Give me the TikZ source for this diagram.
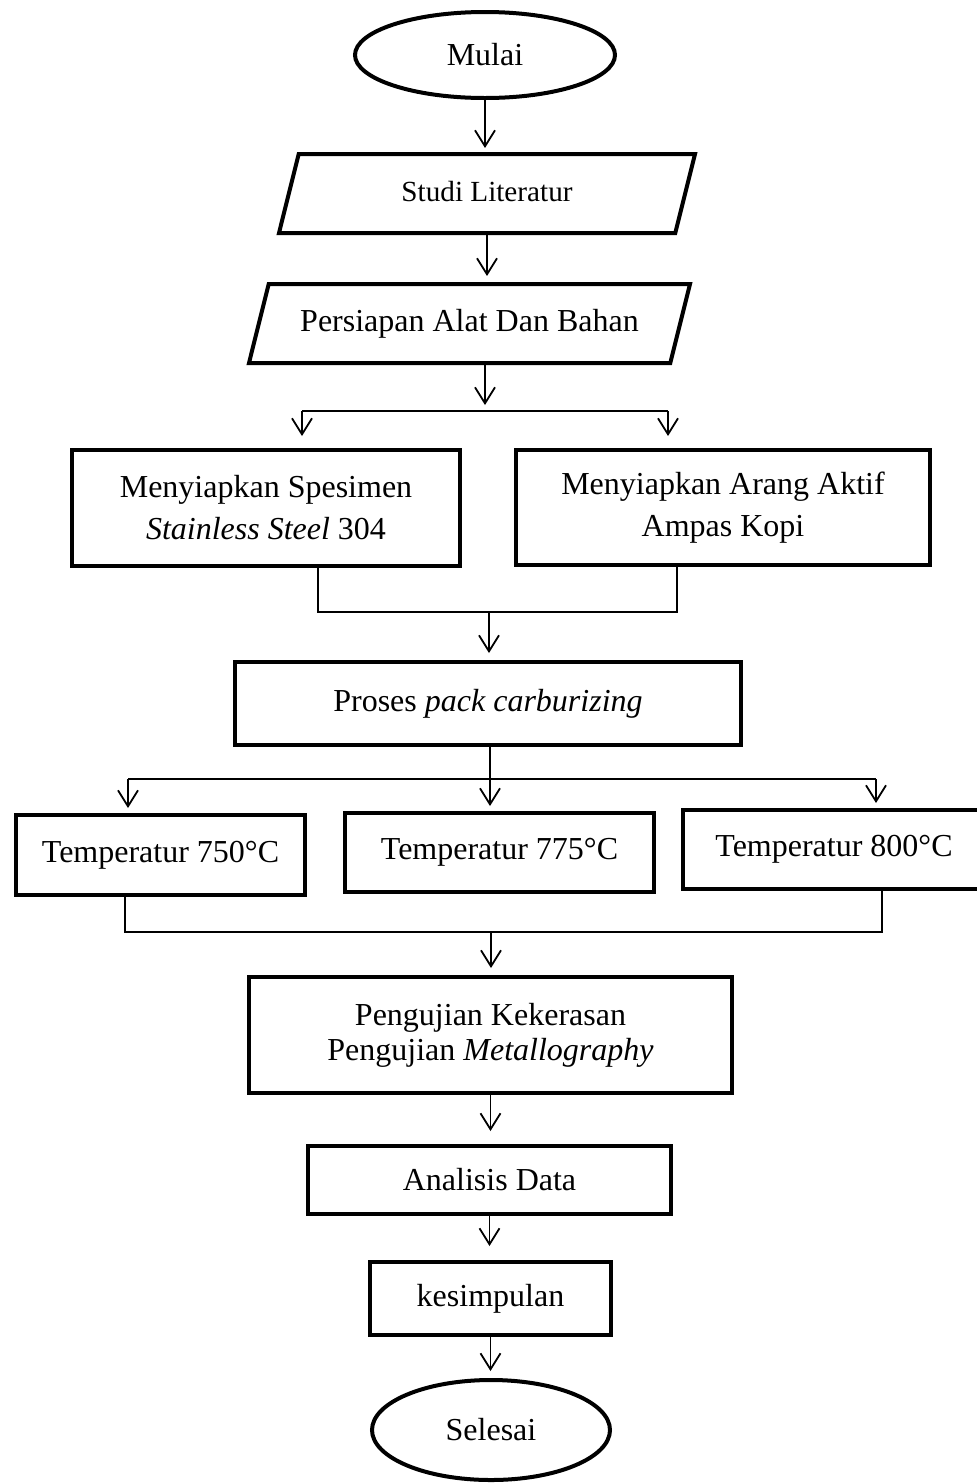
\documentclass[tikz,border=0pt]{standalone}
\usepackage{fontspec}
\setmainfont{Liberation Serif}
\usepackage{tikz}
\tikzset{
    terminal/.style={ellipse,draw,line width=2pt},
    io/.style={trapezium,trapezium left angle=76,trapezium right angle=104,trapezium stretches body,draw,line width=2pt,text height=11pt,text depth=3.5pt},
    process/.style={rectangle,draw,line width=2pt,align=center},
    edge/.style={-{Straight Barb[length=8pt,width=10pt]},line width=0.9pt},
    link/.style={line width=0.9pt}
}
\usetikzlibrary{arrows.meta,shapes.geometric}

\begin{document}
\begin{tikzpicture}[x=0.5pt,y=-0.5pt]
\useasboundingbox (0,0) rectangle (976,1484);
\begin{scope}[every node/.style={font=\fontsize{16}{19}\selectfont,inner sep=2pt}]
\node[terminal,minimum width=130pt,minimum height=43pt] (mulai) at (485,55) {Mulai};
\node[io,minimum width=208pt,inner ysep=12.5pt,font=\fontsize{14.6}{17}\selectfont] (studi) at (487,193.5) {Studi Literatur};
\node[io,minimum width=220.5pt,inner ysep=12.5pt] (persiapan) at (469.5,323.5) {Persiapan Alat Dan Bahan};
\node[process,minimum width=194pt,minimum height=58pt,font=\fontsize{16}{21}\selectfont] (spesimen) at (266,508) {Menyiapkan Spesimen\\\textit{Stainless Steel} 304};
\node[process,minimum width=207pt,minimum height=57.5pt,font=\fontsize{16}{21}\selectfont] (arang) at (723,507.5) {Menyiapkan Arang Aktif\\Ampas Kopi};
\node[process,minimum width=253pt,minimum height=41.5pt] (proses) at (488,703.5) {Proses \textit{pack carburizing}};
\node[process,minimum width=144.5pt,minimum height=40pt] (t750) at (160.5,855) {Temperatur 750°C};
\node[process,minimum width=154.5pt,minimum height=39.5pt] (t775) at (499.5,852.5) {Temperatur 775°C};
\node[process,minimum width=151pt,minimum height=39.5pt] (t800) at (834,849.5) {Temperatur 800°C};
\node[process,minimum width=241.5pt,minimum height=58pt,font=\fontsize{16}{17.5}\selectfont] (pengujian) at (490.5,1035) {Pengujian Kekerasan\\Pengujian \textit{Metallography}};
\node[process,minimum width=181.5pt,minimum height=34pt] (analisis) at (489.5,1180) {Analisis Data};
\node[process,minimum width=120.5pt,minimum height=36.5pt] (kesimpulan) at (490.5,1298.5) {kesimpulan};
\node[terminal,minimum width=119pt,minimum height=50pt] (selesai) at (491,1430) {Selesai};

\coordinate (sp) at (485,411);
\coordinate (sl) at (302,411);
\coordinate (sr) at (668,411);
\coordinate (jl) at (318,612);
\coordinate (jr) at (677,612);
\coordinate (jm) at (489,612);
\coordinate (pm) at (490,779);
\coordinate (pl) at (128,779);
\coordinate (pr) at (876,779);
\coordinate (ql) at (125,932);
\coordinate (qr) at (882,932);
\coordinate (qm) at (491,932);

\draw[edge,shorten >=2pt] (mulai) -- (mulai |- studi.north);
\draw[edge,shorten >=3pt] (studi) -- (studi |- persiapan.north);
\draw[edge,shorten >=3pt] (sp |- persiapan.south) -- (sp);
\draw[link] (sl) -- (sr);
\draw[edge,shorten >=6pt] (sl) -- (sl |- spesimen.north);
\draw[edge,shorten >=6pt] (sr) -- (sr |- arang.north);
\draw[link] (jl |- spesimen.south) -- (jl) -- (jr) -- (jr |- arang.south);
\draw[edge,shorten >=3.5pt] (jm) -- (jm |- proses.north);
\draw[link] (pm |- proses.south) -- (pm);
\draw[link] (pl) -- (pr);
\draw[edge,shorten >=2.5pt] (pl) -- (pl |- t750.north);
\draw[edge,shorten >=2.5pt] (pm) -- (pm |- t775.north);
\draw[edge,shorten >=2.5pt] (pr) -- (pr |- t800.north);
\draw[link] (ql |- t750.south) -- (ql) -- (qr) -- (qr |- t800.south);
\draw[edge,shorten >=3.5pt] (qm) -- (qm |- pengujian.north);
\draw[edge,shorten >=6.5pt] (pengujian) -- (pengujian |- analisis.north);
\draw[edge,shorten >=7pt] (analisis) -- (analisis |- kesimpulan.north);
\draw[edge,shorten >=3.5pt] (kesimpulan) -- (kesimpulan |- selesai.north);

\end{scope}
\end{tikzpicture}
\end{document}
